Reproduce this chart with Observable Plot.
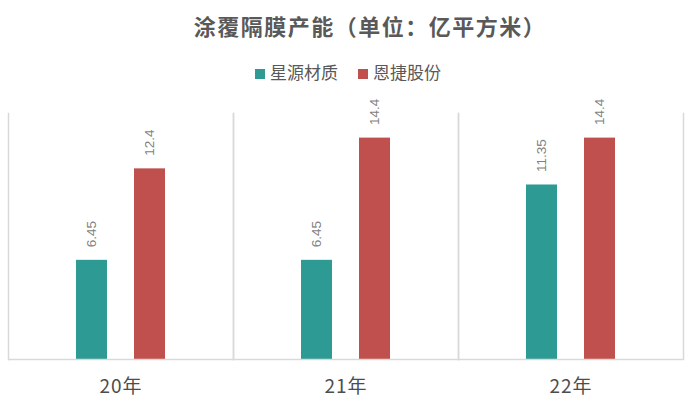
<!DOCTYPE html>
<html>
<head>
<meta charset="utf-8">
<script src="https://cdn.jsdelivr.net/npm/d3@7"></script>
<script src="https://cdn.jsdelivr.net/npm/@observablehq/plot@0.6"></script>
<style>
  html, body { margin: 0; padding: 0; background: #fff; }
  #wrap { position: relative; width: 690px; height: 406px; font-family: "Noto Sans CJK SC", "Noto Sans", sans-serif; }
  #title { position: absolute; left: 0; top: 10px; width: 740px; text-align: center; font-size: 22px; font-weight: bold; color: #595959; letter-spacing: 1.5px; line-height: 30px; }
  #legend { position: absolute; left: 0; top: 60px; width: 696px; text-align: center; font-size: 17px; color: #595959; line-height: 24px; white-space: nowrap; }
  #legend .item { display: inline-block; margin: 0 10px; }
  #legend .sw { display: inline-block; width: 10px; height: 10px; margin-right: 5px; vertical-align: 0px; }
  #chart { position: absolute; left: 0; top: 0; }
</style>
</head>
<body>
<div id="wrap">
  <div id="chart"></div>
  <div id="title">涂覆隔膜产能（单位：亿平方米）</div>
  <div id="legend"></div>
</div>
<script>
const categories = ["20年", "21年", "22年"];
const series = ["星源材质", "恩捷股份"];
const xingyuan = [6.45, 6.45, 11.35];
const enjie = [12.4, 14.4, 14.4];
const colors = ["#2e9a94", "#c0504d"];

const data = categories.flatMap((c, i) => [
  {cat: c, s: series[0], v: xingyuan[i]},
  {cat: c, s: series[1], v: enjie[i]}
]);

const legend = document.getElementById("legend");
series.forEach((s, i) => {
  const item = document.createElement("span");
  item.className = "item";
  const sw = document.createElement("span");
  sw.className = "sw";
  sw.style.background = colors[i];
  item.appendChild(sw);
  item.appendChild(document.createTextNode(s));
  legend.appendChild(item);
});

const chart = Plot.plot({
  width: 690,
  height: 406,
  marginTop: 113,
  marginBottom: 47,
  marginLeft: 8,
  marginRight: 7,
  style: {fontSize: "19px", color: "#4d4d4d", fontFamily: "'Noto Sans CJK SC', 'Noto Sans', sans-serif", background: "transparent", letterSpacing: "1px"},
  fx: {domain: categories, padding: 0, label: null, axis: "bottom", tickSize: 0, tickPadding: 20},
  x: {domain: series, paddingInner: 0.4655, paddingOuter: 1.172, axis: null},
  y: {domain: [0, 16], axis: null},
  color: {domain: series, range: colors},
  marks: [
    Plot.frame({anchor: "left", stroke: "#d9d9d9", strokeWidth: 1.5}),
    Plot.frame({anchor: "right", stroke: "#d9d9d9", strokeWidth: 1.5}),
    Plot.barY(data, {fx: "cat", x: "s", y: "v", fill: "s"}),
    Plot.text(data, {fx: "cat", x: "s", y: "v", text: d => String(d.v), rotate: -90, textAnchor: "start", dy: -13, fill: "#7f7f7f", fontSize: 13.5, fontFamily: "'Liberation Sans', sans-serif", style: "letter-spacing:0"}),
    Plot.ruleY([0], {stroke: "#d9d9d9", strokeWidth: 1.5})
  ]
});
chart.querySelectorAll("text").forEach(t => { if (!/[0-9]\./.test(t.textContent)) return; t.style.letterSpacing = "0px"; });
document.getElementById("chart").appendChild(chart);
</script>
</body>
</html>
